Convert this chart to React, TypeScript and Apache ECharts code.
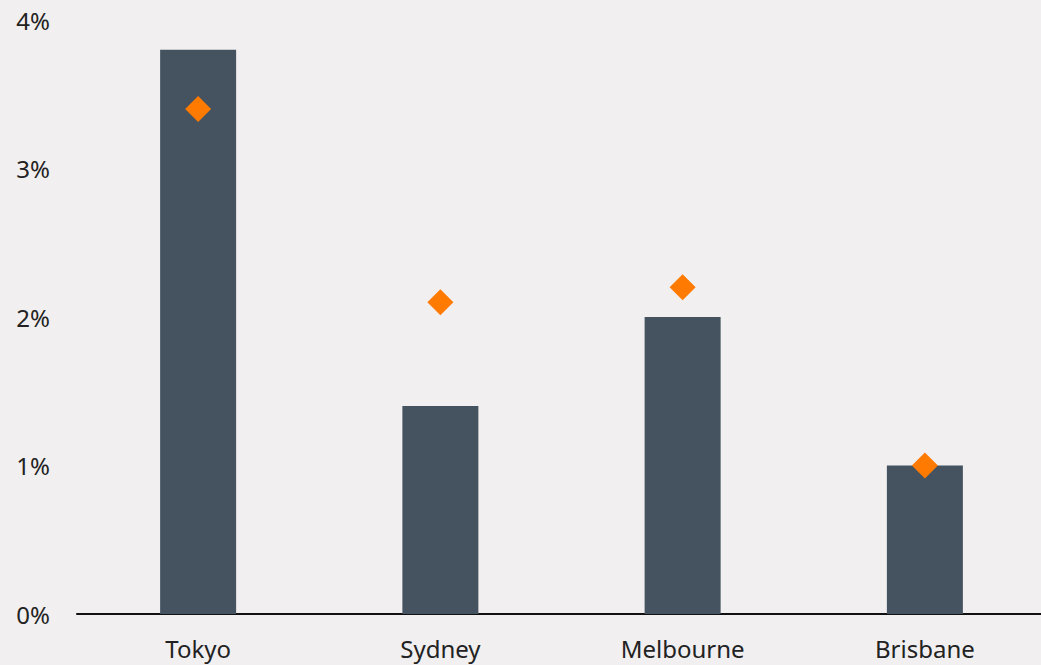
import React, { useEffect, useRef } from "react";
import * as echarts from "echarts";

const categories = ["Tokyo", "Sydney", "Melbourne", "Brisbane"];
const barValues = [3.8, 1.4, 2.0, 1.0];
const markerValues = [3.4, 2.1, 2.2, 1.0];
const yTicks = [0, 1, 2, 3, 4];

export default function App() {
  const ref = useRef<HTMLDivElement>(null);
  useEffect(() => {
    if (!ref.current) return;
    const chart = echarts.init(ref.current, undefined, { renderer: "svg" });
    chart.setOption({
      animation: false,
      backgroundColor: "#f1eff0",
      textStyle: { fontFamily: "Noto Sans, Liberation Sans, Arial, sans-serif" },
      grid: { left: 77, right: 0, top: 20, bottom: 51, containLabel: false },
      xAxis: {
        type: "category",
        data: categories,
        axisLine: { show: true, lineStyle: { color: "#111", width: 2 } },
        axisTick: { show: false },
        axisLabel: { color: "#222", fontSize: 24, margin: 22 },
      },
      yAxis: {
        type: "value",
        min: yTicks[0],
        max: yTicks[yTicks.length - 1],
        interval: 1,
        splitLine: { show: false },
        axisLine: { show: false },
        axisTick: { show: false },
        axisLabel: {
          color: "#222",
          fontSize: 24,
          margin: 27,
          formatter: (v: number) => `${v}%`,
        },
      },
      series: [
        {
          type: "bar",
          data: barValues,
          barWidth: 76,
          itemStyle: { color: "#44535f" },
        },
        {
          type: "scatter",
          data: markerValues,
          symbol: "diamond",
          symbolSize: 26,
          itemStyle: { color: "#ff7a00", opacity: 1 },
          z: 5,
        },
      ],
    });
    return () => chart.dispose();
  }, []);
  return (
    <div
      style={{
        position: "absolute",
        left: 0,
        top: 0,
        width: 1041,
        height: 665,
        overflow: "hidden",
        background: "#f1eff0",
      }}
    >
      <div ref={ref} style={{ width: 1046, height: 665 }} />
    </div>
  );
}
